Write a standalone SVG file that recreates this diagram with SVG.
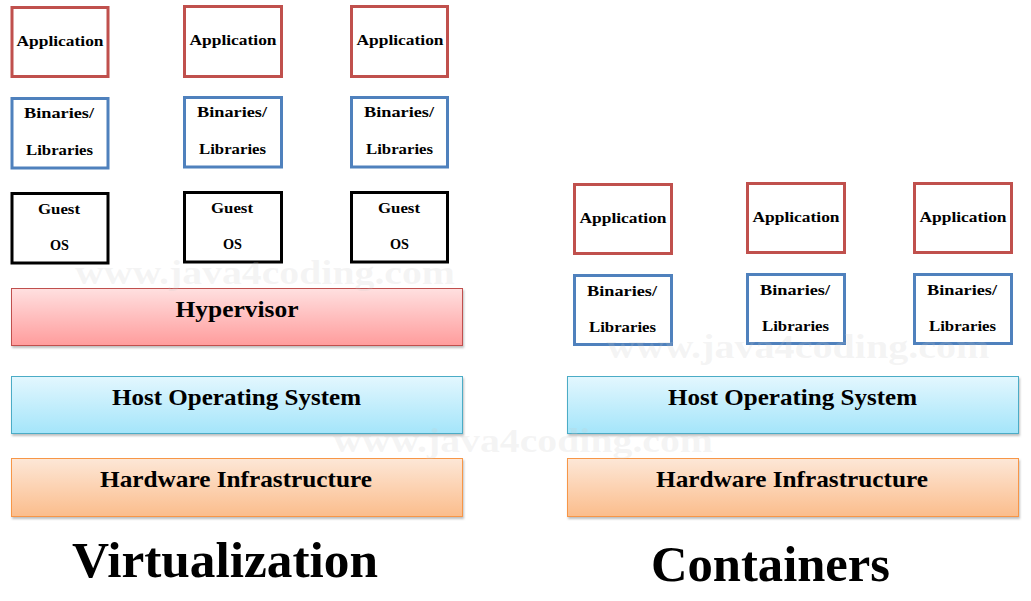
<svg xmlns="http://www.w3.org/2000/svg" width="1031" height="601" viewBox="0 0 1031 601">
<defs>
<linearGradient id="gRed" x1="0" y1="0" x2="0" y2="1"><stop offset="0" stop-color="#ffe0e0"/><stop offset="1" stop-color="#ff9c9c"/></linearGradient>
<linearGradient id="gBlue" x1="0" y1="0" x2="0" y2="1"><stop offset="0" stop-color="#e3f7fe"/><stop offset="1" stop-color="#a4e5fa"/></linearGradient>
<linearGradient id="gOrange" x1="0" y1="0" x2="0" y2="1"><stop offset="0" stop-color="#fde7d7"/><stop offset="1" stop-color="#fbbd8c"/></linearGradient>
<filter id="shadow" x="-5%" y="-10%" width="110%" height="130%"><feDropShadow dx="1" dy="2" stdDeviation="1.2" flood-color="#000" flood-opacity="0.25"/></filter>
<style>
.box{fill:#fff;stroke-width:3}
.app{stroke:#c0504d}
.bin{stroke:#4f81bd}
.os{stroke:#000}
.t{font-family:"Liberation Serif","DejaVu Serif",serif;font-weight:bold;fill:#000;text-anchor:middle}
.s{font-size:15px}
.bar{font-size:23px}
.title{font-size:50px}
.wm{font-family:"Liberation Serif","DejaVu Serif",serif;font-weight:bold;font-size:34px;fill:#c8c8c8;fill-opacity:0.2;text-anchor:middle}
</style>
</defs>
<rect width="1031" height="601" fill="#fff"/>

<g id="virt-app1"><rect class="box app" x="12" y="7.5" width="96" height="69"/><text class="t s" x="60" y="46" textLength="87" lengthAdjust="spacingAndGlyphs">Application</text></g>
<g id="virt-app2"><rect class="box app" x="184.5" y="6.5" width="97" height="70"/><text class="t s" x="233" y="45" textLength="87" lengthAdjust="spacingAndGlyphs">Application</text></g>
<g id="virt-app3"><rect class="box app" x="351.5" y="6.5" width="96" height="70"/><text class="t s" x="400" y="45" textLength="87" lengthAdjust="spacingAndGlyphs">Application</text></g>

<g id="virt-bin1"><rect class="box bin" x="12" y="98.5" width="96" height="69.5"/><text class="t s" x="59" y="118" textLength="70" lengthAdjust="spacingAndGlyphs">Binaries/</text><text class="t s" x="59.5" y="155" textLength="67" lengthAdjust="spacingAndGlyphs">Libraries</text></g>
<g id="virt-bin2"><rect class="box bin" x="184.5" y="97.5" width="97" height="69.5"/><text class="t s" x="232" y="117" textLength="70" lengthAdjust="spacingAndGlyphs">Binaries/</text><text class="t s" x="232.5" y="154" textLength="67" lengthAdjust="spacingAndGlyphs">Libraries</text></g>
<g id="virt-bin3"><rect class="box bin" x="351.5" y="97.5" width="96" height="69.5"/><text class="t s" x="399" y="117" textLength="70" lengthAdjust="spacingAndGlyphs">Binaries/</text><text class="t s" x="399.5" y="154" textLength="67" lengthAdjust="spacingAndGlyphs">Libraries</text></g>

<g id="virt-os1"><rect class="box os" x="12" y="193.5" width="96" height="69.5"/><text class="t s" x="59" y="214" textLength="42" lengthAdjust="spacingAndGlyphs">Guest</text><text class="t s" x="59.5" y="250" textLength="19" lengthAdjust="spacingAndGlyphs">OS</text></g>
<g id="virt-os2"><rect class="box os" x="184.5" y="192.5" width="97" height="69.5"/><text class="t s" x="232" y="213" textLength="42" lengthAdjust="spacingAndGlyphs">Guest</text><text class="t s" x="232.5" y="249" textLength="19" lengthAdjust="spacingAndGlyphs">OS</text></g>
<g id="virt-os3"><rect class="box os" x="351.5" y="192.5" width="96" height="69.5"/><text class="t s" x="399" y="213" textLength="42" lengthAdjust="spacingAndGlyphs">Guest</text><text class="t s" x="399.5" y="249" textLength="19" lengthAdjust="spacingAndGlyphs">OS</text></g>

<g id="virt-hypervisor"><rect x="11.5" y="288.5" width="451" height="57" fill="url(#gRed)" stroke="#c0504d" filter="url(#shadow)"/><text class="t bar" x="237" y="317" textLength="123" lengthAdjust="spacingAndGlyphs">Hypervisor</text></g>
<g id="virt-hostos"><rect x="11.5" y="376.5" width="451" height="57" fill="url(#gBlue)" stroke="#4bacc6" filter="url(#shadow)"/><text class="t bar" x="236.5" y="405" textLength="249" lengthAdjust="spacingAndGlyphs">Host Operating System</text></g>
<g id="virt-hardware"><rect x="11.5" y="458.5" width="451" height="58" fill="url(#gOrange)" stroke="#f79646" filter="url(#shadow)"/><text class="t bar" x="236" y="487" textLength="272" lengthAdjust="spacingAndGlyphs">Hardware Infrastructure</text></g>

<g id="cont-app1"><rect class="box app" x="574.5" y="184.5" width="97" height="69"/><text class="t s" x="623" y="223" textLength="87" lengthAdjust="spacingAndGlyphs">Application</text></g>
<g id="cont-app2"><rect class="box app" x="747.5" y="183.5" width="97" height="69"/><text class="t s" x="796" y="222" textLength="87" lengthAdjust="spacingAndGlyphs">Application</text></g>
<g id="cont-app3"><rect class="box app" x="914.5" y="183.5" width="97" height="69"/><text class="t s" x="963" y="222" textLength="87" lengthAdjust="spacingAndGlyphs">Application</text></g>

<g id="cont-bin1"><rect class="box bin" x="574.5" y="275.5" width="97" height="69"/><text class="t s" x="622" y="296" textLength="70" lengthAdjust="spacingAndGlyphs">Binaries/</text><text class="t s" x="622.5" y="332" textLength="67" lengthAdjust="spacingAndGlyphs">Libraries</text></g>
<g id="cont-bin2"><rect class="box bin" x="747.5" y="274.5" width="97" height="69"/><text class="t s" x="795" y="295" textLength="70" lengthAdjust="spacingAndGlyphs">Binaries/</text><text class="t s" x="795.5" y="331" textLength="67" lengthAdjust="spacingAndGlyphs">Libraries</text></g>
<g id="cont-bin3"><rect class="box bin" x="914.5" y="274.5" width="97" height="69"/><text class="t s" x="962" y="295" textLength="70" lengthAdjust="spacingAndGlyphs">Binaries/</text><text class="t s" x="962.5" y="331" textLength="67" lengthAdjust="spacingAndGlyphs">Libraries</text></g>

<g id="cont-hostos"><rect x="567.5" y="376.5" width="451" height="57" fill="url(#gBlue)" stroke="#4bacc6" filter="url(#shadow)"/><text class="t bar" x="792.5" y="405" textLength="249" lengthAdjust="spacingAndGlyphs">Host Operating System</text></g>
<g id="cont-hardware"><rect x="567.5" y="458.5" width="451" height="58" fill="url(#gOrange)" stroke="#f79646" filter="url(#shadow)"/><text class="t bar" x="792" y="487" textLength="272" lengthAdjust="spacingAndGlyphs">Hardware Infrastructure</text></g>

<g id="connectors"></g>

<g id="titles">
<text class="t title" x="225" y="577" textLength="306" lengthAdjust="spacingAndGlyphs">Virtualization</text>
<text class="t title" x="770.5" y="581" textLength="239" lengthAdjust="spacingAndGlyphs">Containers</text>
</g>

<g id="watermarks">
<text class="wm" x="265" y="284" textLength="380" lengthAdjust="spacingAndGlyphs">www.java4coding.com</text>
<text class="wm" x="523" y="452" textLength="380" lengthAdjust="spacingAndGlyphs">www.java4coding.com</text>
<text class="wm" x="798" y="358" textLength="383" lengthAdjust="spacingAndGlyphs">www.java4coding.com</text>
</g>
</svg>
